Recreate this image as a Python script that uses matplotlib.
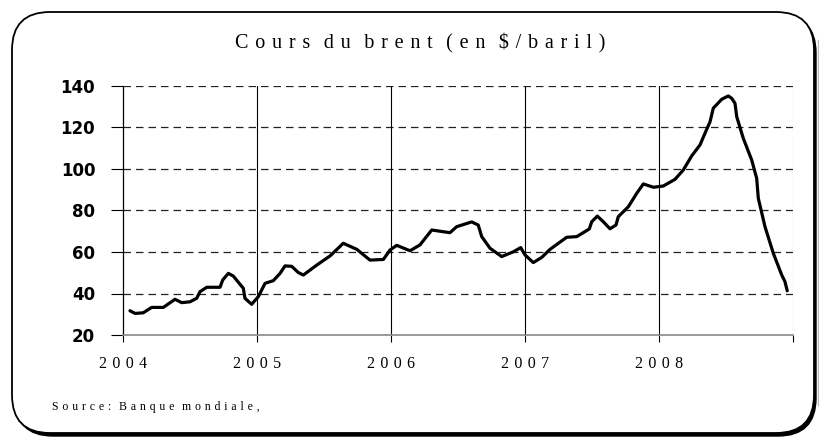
import matplotlib
matplotlib.use("Agg")
import matplotlib.pyplot as plt
from matplotlib.patches import FancyBboxPatch

# brent price (decimal year, $/barrel)
years = [2004.052, 2004.090, 2004.151, 2004.214, 2004.301, 2004.388, 2004.438,
         2004.500, 2004.550, 2004.575, 2004.625, 2004.724, 2004.744, 2004.786,
         2004.823, 2004.898, 2004.910, 2004.960, 2005.010, 2005.060, 2005.122,
         2005.172, 2005.209, 2005.259, 2005.308, 2005.346, 2005.446, 2005.545,
         2005.644, 2005.744, 2005.843, 2005.943, 2005.993, 2006.043, 2006.142,
         2006.216, 2006.304, 2006.440, 2006.490, 2006.602, 2006.651, 2006.677,
         2006.739, 2006.826, 2006.913, 2006.968, 2007.000, 2007.062, 2007.125,
         2007.187, 2007.311, 2007.386, 2007.480, 2007.498, 2007.540, 2007.584,
         2007.634, 2007.679, 2007.696, 2007.771, 2007.834, 2007.883, 2007.958,
         2008.032, 2008.119, 2008.181, 2008.244, 2008.306, 2008.343, 2008.381,
         2008.405, 2008.468, 2008.517, 2008.542, 2008.567, 2008.580, 2008.629,
         2008.692, 2008.729, 2008.741, 2008.791, 2008.853, 2008.916, 2008.940,
         2008.957]
price = [31.7, 30.4, 30.7, 33.3, 33.3, 37.2, 35.6,
         36.0, 37.7, 40.9, 43.0, 43.0, 46.5, 49.7,
         48.4, 42.5, 37.7, 34.8, 38.5, 44.9, 46.2,
         49.7, 53.3, 53.1, 50.1, 48.9, 53.7, 58.1,
         64.2, 61.3, 56.1, 56.4, 61.0, 63.2, 60.6,
         63.4, 70.6, 69.3, 72.2, 74.5, 73.0, 67.4,
         61.8, 57.8, 60.1, 62.1, 58.6, 54.9, 57.4,
         61.3, 67.1, 67.4, 71.1, 74.6, 77.3, 74.6,
         71.2, 73.0, 77.0, 81.8, 88.3, 92.8, 91.2,
         91.8, 95.0, 99.5, 106.3, 111.6, 117.2, 122.8,
         129.3, 133.6, 135.2, 134.1, 131.7, 125.2, 114.8,
         104.3, 95.5, 85.9, 72.2, 59.4, 48.9, 45.7,
         41.3]

year_ticks = [2004, 2005, 2006, 2007, 2008, 2009]
year_names = ["2004", "2005", "2006", "2007", "2008", ""]
price_ticks = [20, 40, 60, 80, 100, 120, 140]

SERIF = ["Liberation Serif", "DejaVu Serif"]
GAP = "\u2004"          # letter spacing as in the original (tracked text)


def tracked(s, gap=GAP, word=3):
    return (gap * word).join(gap.join(w) for w in s.split(" "))


W, H = 819, 437
fig = plt.figure(figsize=(W / 100, H / 100), dpi=100, facecolor="white")

# rounded frame with a dark shadow on the bottom/right
bg = fig.add_axes([0, 0, 1, 1])
bg.set_xlim(0, W); bg.set_ylim(H, 0); bg.axis("off")
bg.add_patch(FancyBboxPatch((15, 15), 801, 421, boxstyle="round,pad=0,rounding_size=38",
                            fc="black", ec="black", lw=1.0))
bg.add_patch(FancyBboxPatch((12, 12), 802, 421, boxstyle="round,pad=0,rounding_size=38",
                            fc="white", ec="black", lw=1.3))
bg.plot([817.5, 817.5], [40, 405], color="#bbbbbb", lw=1)

ax = fig.add_axes([123 / W, 1 - 335 / H, 670 / W, 249 / H])
ax.set_facecolor("none")
ax.plot(years, price, color="black", lw=2.3, solid_joinstyle="round",
        solid_capstyle="round", zorder=3)

ax.set_xlim(2004, 2009)
ax.set_ylim(20, 140)
ax.set_xticks(year_ticks)
ax.set_xticklabels([tracked(t) for t in year_names], family=SERIF, fontsize=11.5)
ax.set_yticks(price_ticks)
ax.set_yticklabels([str(v) for v in price_ticks], family="DejaVu Sans",
                   fontweight="bold", fontsize=12)
ax.tick_params(axis="y", length=9, width=0.8, pad=11, colors="black")
ax.tick_params(axis="x", length=5, width=0.8, pad=10)

for v in price_ticks[1:]:
    ax.axhline(v, color="#222222", lw=0.9, ls=(0, (6, 4)), zorder=1)
for y in year_ticks[1:-1]:
    ax.axvline(y, color="black", lw=0.8, zorder=1)

for s in ["top", "right"]:
    ax.spines[s].set_visible(False)
ax.spines["left"].set_linewidth(0.9)
ax.spines["bottom"].set_color("#888888")
ax.spines["bottom"].set_linewidth(1.2)
ax.axvline(2009, color="#bbbbbb", lw=0.8, zorder=1)

fig.text(420 / W, 1 - 43 / H, tracked("Cours du brent (en $/baril)", word=2),
         family=SERIF, fontsize=14.5, ha="center", va="center")
fig.text(52 / W, 1 - 407 / H, tracked("Source: Banque mondiale,", word=2),
         family=SERIF, fontsize=8.5, ha="left", va="center")

fig.savefig("out.png", dpi=100, facecolor="white")
